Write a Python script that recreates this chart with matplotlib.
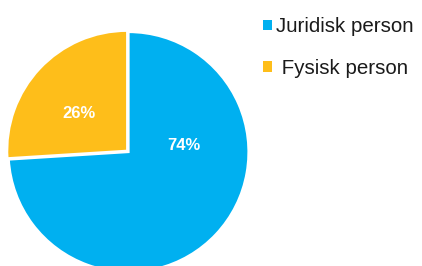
import matplotlib
matplotlib.use("Agg")
import matplotlib.pyplot as plt

categories = ["Juridisk person", "Fysisk person"]
values = [74, 26]
legend_labels = ["Juridisk person", " Fysisk person"]
colors = ["#00B0F0", "#FEBE1A"]

plt.rcParams['font.family'] = ['Liberation Sans', 'DejaVu Sans']

W, H = 422, 266
fig = plt.figure(figsize=(W / 100, H / 100), dpi=100)
cx, cy, r = 128.5, 152, 120
ax = fig.add_axes([(cx - r) / W, (H - cy - r) / H, 2 * r / W, 2 * r / H])
ax.set_xlim(-1, 1)
ax.set_ylim(-1, 1)
ax.axis('off')

wedges, texts, autotexts = ax.pie(
    values, colors=colors, startangle=90, counterclock=False,
    explode=[0, 0.015], radius=1, center=(0, 0), frame=False,
    autopct=lambda p: f"{p:.0f}%", pctdistance=0.5,
    wedgeprops=dict(edgecolor="white", linewidth=1.6),
    textprops=dict(color="white", fontsize=12, fontweight="bold"))
ax.set_xlim(-1, 1)
ax.set_ylim(-1, 1)

# label placement as in reference
autotexts[0].set_position((0.46, 0.05))
autotexts[1].set_position((-0.41, 0.325))
for t in autotexts:
    t.set_ha("center")
    t.set_va("center")

fig.legend(wedges, legend_labels, loc="upper left",
           bbox_to_anchor=(253 / W, 1 - 7 / H), frameon=False,
           fontsize=14.8, handlelength=0.42, handleheight=0.42,
           handletextpad=0.22, labelspacing=1.1, borderpad=0,
           labelcolor="#1a1a1a")
for h in fig.legends[0].legend_handles:
    h.set_edgecolor("none")

fig.savefig("out.png", dpi=100)
